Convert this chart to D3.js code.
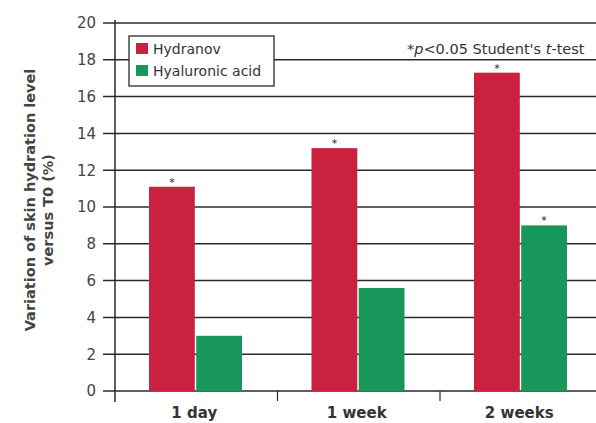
<!DOCTYPE html>
<html><head><meta charset="utf-8">
<script src="https://cdn.jsdelivr.net/npm/d3@7/dist/d3.min.js"></script>
<style>body{margin:0;background:#fff;} svg{display:block;}</style>
</head><body>
<svg id="c" width="596" height="423"></svg>
<script>
const categories = ["1 day", "1 week", "2 weeks"];
const seriesNames = ["Hydranov", "Hyaluronic acid"];
const hydranov = [11.1, 13.2, 17.3];
const hyaluronic = [3.0, 5.6, 9.0];
const significant = [[true, true, true], [false, false, true]];
const yTicks = [0, 2, 4, 6, 8, 10, 12, 14, 16, 18, 20];
const colors = ["#c9213f", "#18975a"];

const FONT = "DejaVu Sans, Verdana, sans-serif";
const svg = d3.select("#c");
const x0 = 115, xEnd = 602.5, yBottom = 391, yTop = 23;
const x = d3.scaleBand().domain(categories).range([x0, xEnd]).paddingInner(0).paddingOuter(0);
const xs = d3.scaleBand().domain(seriesNames).range([34, 127]).paddingInner(0.03);
const y = d3.scaleLinear().domain([0, 20]).range([yBottom, yTop]);
const ink = "#2a2a2a";

// gridlines
svg.append("g").selectAll("line").data(yTicks).join("line")
  .attr("x1", 103).attr("x2", 596)
  .attr("y1", d => y(d)).attr("y2", d => y(d))
  .attr("stroke", ink).attr("stroke-width", 1.5);

// y axis labels
svg.append("g").selectAll("text").data(yTicks).join("text")
  .attr("x", 96).attr("y", d => y(d)).attr("dy", "0.36em")
  .attr("text-anchor", "end").attr("font-family", FONT)
  .attr("font-size", 15).attr("fill", "#444").text(d => d);

// y axis line
svg.append("line").attr("x1", x0).attr("x2", x0).attr("y1", 20).attr("y2", 402)
  .attr("stroke", ink).attr("stroke-width", 1.5);

// x category separator ticks
svg.append("g").selectAll("line").data(categories.slice(1)).join("line")
  .attr("x1", d => x(d)).attr("x2", d => x(d)).attr("y1", yBottom).attr("y2", 401)
  .attr("stroke", ink).attr("stroke-width", 1.2);

const series = [hydranov, hyaluronic];
const data = [];
series.forEach((vals, si) => vals.forEach((v, ci) => data.push({s: seriesNames[si], si, c: categories[ci], ci, v})));

svg.append("g").selectAll("rect").data(data).join("rect")
  .attr("x", d => x(d.c) + xs(d.s)).attr("width", xs.bandwidth())
  .attr("y", d => y(d.v)).attr("height", d => y(0) - y(d.v))
  .attr("fill", d => colors[d.si]);

// asterisks
svg.append("g").selectAll("text").data(data.filter(d => significant[d.si][d.ci])).join("text")
  .attr("x", d => x(d.c) + xs(d.s) + xs.bandwidth() / 2)
  .attr("y", d => y(d.v) - 1)
  .attr("text-anchor", "middle").attr("font-family", FONT)
  .attr("font-size", 11).attr("fill", "#222").text("*");

// x labels
svg.append("g").selectAll("text").data(categories).join("text")
  .attr("x", d => x(d) + x.bandwidth() / 2 - 2).attr("y", 417.5)
  .attr("text-anchor", "middle").attr("font-family", FONT)
  .attr("font-weight", "bold").attr("font-size", 15).attr("fill", "#333").text(d => d);

// y title
const yt = svg.append("text").attr("transform", "translate(39,200) rotate(-90)")
  .attr("text-anchor", "middle").attr("font-family", FONT)
  .attr("font-weight", "bold").attr("font-size", 14.5).attr("fill", "#444");
yt.append("tspan").attr("x", 0).attr("y", -4).text("Variation of skin hydration level");
yt.append("tspan").attr("x", -10).attr("y", 14).text("versus T0 (%)");

// legend
const lg = svg.append("g");
lg.append("rect").attr("x", 129).attr("y", 36).attr("width", 145).attr("height", 50)
  .attr("fill", "#fff").attr("stroke", ink).attr("stroke-width", 1.3);
seriesNames.forEach((n, i) => {
  lg.append("rect").attr("x", 136).attr("y", 43 + i * 22).attr("width", 12).attr("height", 11).attr("fill", colors[i]);
  lg.append("text").attr("x", 153).attr("y", 49 + i * 22).attr("dy", "0.36em")
    .attr("font-family", FONT).attr("font-size", 14).attr("fill", "#333").text(n);
});

// annotation
const an = svg.append("text").attr("x", 407).attr("y", 54)
  .attr("font-family", FONT).attr("font-size", 14.5).attr("fill", "#333");
an.append("tspan").text("*");
an.append("tspan").attr("font-style", "italic").text("p");
an.append("tspan").text("<0.05 Student's ");
an.append("tspan").attr("font-style", "italic").text("t");
an.append("tspan").text("-test");
</script>
</body></html>
